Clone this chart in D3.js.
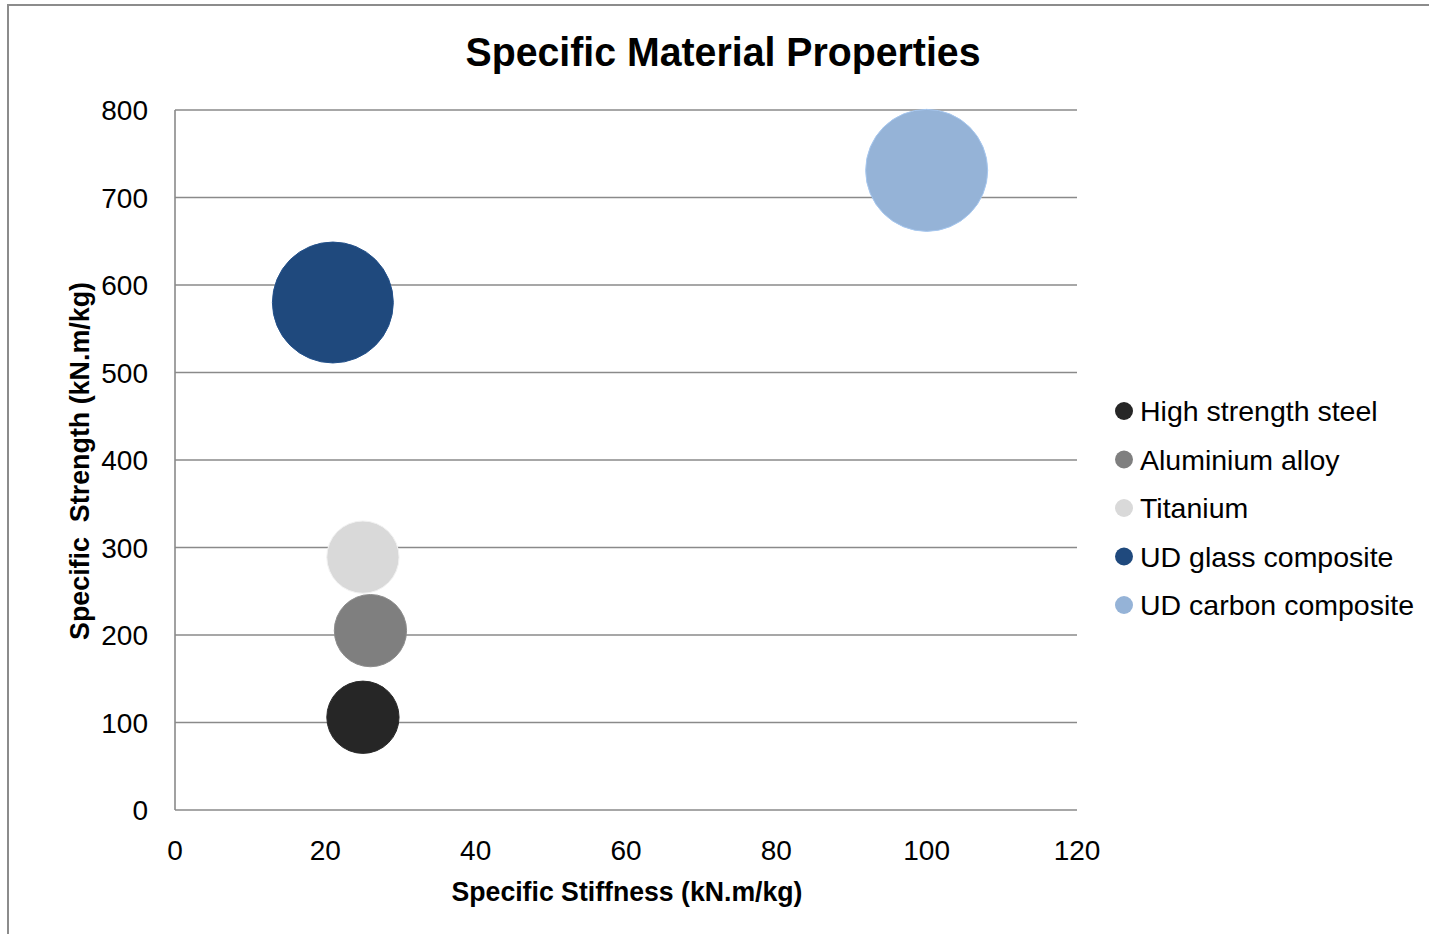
<!DOCTYPE html>
<html>
<head>
<meta charset="utf-8">
<script src="https://cdn.jsdelivr.net/npm/d3@7"></script>
<style>
  body { margin: 0; background: #fff; }
  text { font-family: "Liberation Sans", Arial, sans-serif; }
</style>
</head>
<body>
<div id="chart"></div>
<script>
const width = 1429;
const height = 934;

// data
const materials = ["High strength steel", "Aluminium alloy", "Titanium", "UD glass composite", "UD carbon composite"];
const stiffness = [25, 26, 25, 21, 100];
const strength = [106, 205, 289, 580, 731];
const bubbleSize = [1, 1, 1, 2.8, 2.85];
const colors = ["#262626", "#7f7f7f", "#d9d9d9", "#1f497d", "#95b3d7"];
const xTicks = [0, 20, 40, 60, 80, 100, 120];
const yTicks = [0, 100, 200, 300, 400, 500, 600, 700, 800];

const data = materials.map((m, i) => ({
    name: m, x: stiffness[i], y: strength[i], size: bubbleSize[i], color: colors[i]
}));

const plot = { left: 175, right: 1077, top: 110, bottom: 810 };

const svg = d3.select("#chart").append("svg")
    .attr("width", width)
    .attr("height", height);

// outer chart frame
svg.append("rect")
    .attr("x", 8).attr("y", 5)
    .attr("width", width).attr("height", height)
    .attr("fill", "none")
    .attr("stroke", "#8c8c8c")
    .attr("stroke-width", 2);

const x = d3.scaleLinear().domain([0, 120]).range([plot.left, plot.right]);
const y = d3.scaleLinear().domain([0, 800]).range([plot.bottom, plot.top]);
const r = d3.scaleSqrt().domain([0, d3.max(bubbleSize)]).range([0, 61]);

// gridlines
svg.append("g")
    .selectAll("line")
    .data(yTicks)
    .join("line")
    .attr("x1", plot.left).attr("x2", plot.right)
    .attr("y1", d => y(d)).attr("y2", d => y(d))
    .attr("stroke", "#8a8a8a")
    .attr("stroke-width", 1.6);

// left axis line
svg.append("line")
    .attr("x1", plot.left).attr("x2", plot.left)
    .attr("y1", plot.top).attr("y2", plot.bottom)
    .attr("stroke", "#8a8a8a")
    .attr("stroke-width", 1.6);

// tick labels
svg.append("g")
    .selectAll("text")
    .data(yTicks)
    .join("text")
    .attr("x", 148)
    .attr("y", d => y(d))
    .attr("dy", "0.36em")
    .attr("text-anchor", "end")
    .attr("font-size", 28)
    .attr("fill", "#000")
    .text(d => d);

svg.append("g")
    .selectAll("text")
    .data(xTicks)
    .join("text")
    .attr("x", d => x(d))
    .attr("y", 860)
    .attr("text-anchor", "middle")
    .attr("font-size", 28)
    .attr("fill", "#000")
    .text(d => d);

// bubbles, biggest first so small ones stay on top
svg.append("g")
    .selectAll("circle")
    .data(data.slice().sort((a, b) => b.size - a.size))
    .join("circle")
    .attr("cx", d => x(d.x))
    .attr("cy", d => y(d.y))
    .attr("r", d => r(d.size))
    .attr("fill", d => d.color)
    .attr("stroke", d => d3.color(d.color).brighter(0.3))
    .attr("stroke-width", 1);

// titles
svg.append("text")
    .attr("x", 723).attr("y", 66)
    .attr("text-anchor", "middle")
    .attr("font-size", 40)
    .attr("font-weight", "bold")
    .attr("textLength", 515)
    .attr("lengthAdjust", "spacingAndGlyphs")
    .text("Specific Material Properties");

svg.append("text")
    .attr("x", 627).attr("y", 901)
    .attr("text-anchor", "middle")
    .attr("font-size", 27)
    .attr("font-weight", "bold")
    .attr("textLength", 351)
    .attr("lengthAdjust", "spacingAndGlyphs")
    .text("Specific Stiffness (kN.m/kg)");

svg.append("text")
    .attr("transform", "translate(89,461) rotate(-90)")
    .attr("text-anchor", "middle")
    .attr("font-size", 27)
    .attr("font-weight", "bold")
    .attr("textLength", 358)
    .attr("lengthAdjust", "spacingAndGlyphs")
    .style("white-space", "pre")
    .text("Specific  Strength (kN.m/kg)");

// legend
const legend = svg.append("g")
    .selectAll("g")
    .data(data)
    .join("g")
    .attr("transform", (d, i) => `translate(1124, ${411 + i * 48.5})`);

legend.append("circle")
    .attr("r", 9)
    .attr("fill", d => d.color);

legend.append("text")
    .attr("x", 16)
    .attr("dy", "0.36em")
    .attr("font-size", 28.5)
    .attr("fill", "#000")
    .text(d => d.name);
</script>
</body>
</html>
